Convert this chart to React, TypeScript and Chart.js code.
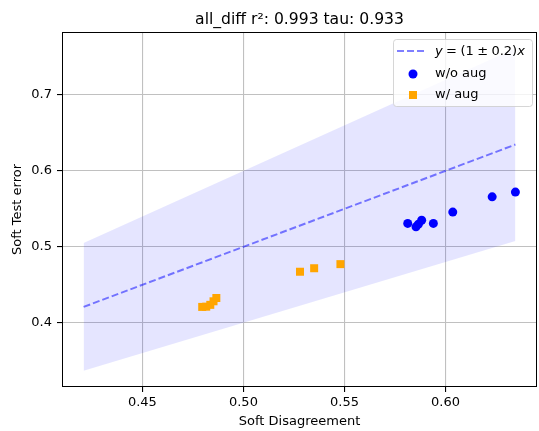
import React, { useEffect, useRef } from "react";
import { Chart, registerables } from "chart.js";

Chart.register(...registerables);

// Soft disagreement (x) vs soft test error (y) for runs without augmentation
const noAugX = [0.5813, 0.5854, 0.5866, 0.5882, 0.594, 0.6036, 0.6231, 0.6346];
const noAugY = [0.5308, 0.5263, 0.5298, 0.535, 0.5308, 0.5457, 0.5658, 0.572];

// ... and with augmentation
const augX = [0.4796, 0.4816, 0.4836, 0.4852, 0.4866, 0.528, 0.535, 0.548];
const augY = [0.4209, 0.4212, 0.4236, 0.4283, 0.4326, 0.4672, 0.4718, 0.4772];

const xTicks = [0.45, 0.5, 0.55, 0.6];
const yTicks = [0.4, 0.5, 0.6, 0.7];

const titleText = "all_diff r\u00b2: 0.993 tau: 0.933";
const xLabel = "Soft Disagreement";
const yLabel = "Soft Test error";
const tolerance = 0.2;

const FONT = "'DejaVu Sans', sans-serif";

export default function App() {
  const canvasRef = useRef<HTMLCanvasElement | null>(null);

  useEffect(() => {
    document.body.style.margin = "0";
    const canvas = canvasRef.current;
    if (!canvas) return;

    const all = [...noAugX, ...noAugY, ...augX, ...augY];
    const lo = Math.min(...all);
    const hi = Math.max(...all);
    const xSpan = hi - lo;
    const yLo = lo * (1 - tolerance);
    const yHi = hi * (1 + tolerance);
    const ySpan = yHi - yLo;

    const toPts = (xs: number[], ys: number[]) => xs.map((x, i) => ({ x, y: ys[i] }));
    const lineX = [lo, hi];

    const framePlugin = {
      id: "frameAndLegend",
      afterDraw(chart: any) {
        const { ctx, chartArea } = chart;
        const { left, top, right, bottom } = chartArea;
        ctx.save();
        // title
        ctx.fillStyle = "#000";
        ctx.font = `15.6px ${FONT}`;
        ctx.textAlign = "center";
        ctx.textBaseline = "alphabetic";
        ctx.fillText(titleText, (left + right) / 2, 24);

        // spines
        ctx.strokeStyle = "#000";
        ctx.lineWidth = 1;
        ctx.strokeRect(Math.round(left) + 0.5, Math.round(top) + 0.5, Math.round(right - left) - 1, Math.round(bottom - top) - 1);

        // legend
        const bx = right - 144;
        const by = top + 7;
        const bw = 139;
        const bh = 67;
        ctx.beginPath();
        ctx.roundRect(bx + 0.5, by + 0.5, bw, bh, 3);
        ctx.fillStyle = "rgba(255,255,255,0.8)";
        ctx.fill();
        ctx.strokeStyle = "rgba(204,204,204,0.8)";
        ctx.stroke();

        const sx = bx + 4;
        const tx = bx + 42;
        const row1 = by + 12;
        const row2 = by + 35;
        const row3 = by + 56;

        ctx.beginPath();
        ctx.setLineDash([7, 3]);
        ctx.strokeStyle = "rgba(0,0,255,0.5)";
        ctx.lineWidth = 2;
        ctx.moveTo(sx, row1);
        ctx.lineTo(sx + 28, row1);
        ctx.stroke();
        ctx.setLineDash([]);

        ctx.beginPath();
        ctx.fillStyle = "#0000ff";
        ctx.arc(sx + 16, row2, 4.5, 0, Math.PI * 2);
        ctx.fill();

        ctx.fillStyle = "#ffa500";
        ctx.fillRect(sx + 12, row3 - 4, 8, 8);

        ctx.fillStyle = "#000";
        ctx.textAlign = "left";
        ctx.textBaseline = "middle";
        // math label: y = (1 ± 0.2)x
        const segs: [string, boolean, number][] = [
          ["y", true, 3.4],
          ["=", false, 3.4],
          ["(1", false, 3.4],
          ["\u00b1", false, 3.4],
          ["0.2)", false, 0],
          ["x", true, 0],
        ];
        let cx = tx;
        for (const [s, it, gap] of segs) {
          ctx.font = `${it ? "italic " : ""}13px ${FONT}`;
          ctx.fillText(s, cx, row1 + 1);
          cx += ctx.measureText(s).width + gap;
        }
        ctx.font = `13px ${FONT}`;
        ctx.fillText("w/o aug", tx, row2);
        ctx.fillText("w/ aug", tx, row3);
        ctx.restore();
      },
    };

    const gridStyle = { color: "#c0c0c0", lineWidth: 1.1, tickLength: 5, tickColor: "#000", drawTicks: true };

    const chart = new Chart(canvas, {
      type: "scatter",
      data: {
        datasets: [
          {
            label: "upper",
            data: toPts(lineX, lineX.map((v) => v * (1 + tolerance))),
            showLine: true,
            borderWidth: 0,
            borderColor: "rgba(0,0,0,0)",
            pointRadius: 0,
            fill: false,
            order: 5,
          },
          {
            label: "lower",
            data: toPts(lineX, lineX.map((v) => v * (1 - tolerance))),
            showLine: true,
            borderWidth: 0,
            borderColor: "rgba(0,0,0,0)",
            pointRadius: 0,
            fill: "-1",
            backgroundColor: "rgba(0,0,255,0.1)",
            order: 4,
          },
          {
            label: "y = (1 ± 0.2)x",
            data: toPts(lineX, lineX),
            showLine: true,
            borderColor: "rgba(0,0,255,0.5)",
            borderWidth: 2,
            borderDash: [7, 3],
            pointRadius: 0,
            fill: false,
            order: 3,
          },
          {
            label: "w/o aug",
            data: toPts(noAugX, noAugY),
            pointStyle: "circle",
            pointRadius: 4.5,
            backgroundColor: "#0000ff",
            borderColor: "#0000ff",
            borderWidth: 0,
            order: 2,
          },
          {
            label: "w/ aug",
            data: toPts(augX, augY),
            pointStyle: "rect",
            pointRadius: 5.66,
            backgroundColor: "#ffa500",
            borderColor: "#ffa500",
            borderWidth: 0,
            order: 1,
          },
        ],
      },
      options: {
        responsive: false,
        animation: false,
        layout: { autoPadding: false, padding: { left: 0, right: 2, top: 32, bottom: 0 } },
        plugins: {
          legend: { display: false },
          title: { display: false },
          tooltip: { enabled: false },
          filler: { propagate: false },
        },
        scales: {
          x: {
            type: "linear",
            min: lo - 0.05 * xSpan,
            max: hi + 0.05 * xSpan,
            afterBuildTicks: (axis: any) => {
              axis.ticks = xTicks.map((v) => ({ value: v }));
            },
            afterFit: (axis: any) => {
              axis.height = 44;
              axis.paddingLeft = 0;
              axis.paddingRight = 0;
            },
            grid: gridStyle,
            border: { display: false },
            ticks: {
              color: "#000",
              font: { family: FONT, size: 13 },
              padding: 3,
              maxRotation: 0,
              callback: (v: any) => Number(v).toFixed(2),
            },
            title: {
              display: true,
              text: xLabel,
              color: "#000",
              font: { family: FONT, size: 13 },
              padding: { top: 0, bottom: 2 },
            },
          },
          y: {
            type: "linear",
            min: yLo - 0.05 * ySpan,
            max: yHi + 0.05 * ySpan,
            afterBuildTicks: (axis: any) => {
              axis.ticks = yTicks.map((v) => ({ value: v }));
            },
            afterFit: (axis: any) => {
              axis.width = 62;
              axis.paddingTop = 0;
              axis.paddingBottom = 0;
            },
            grid: gridStyle,
            border: { display: false },
            ticks: {
              color: "#000",
              font: { family: FONT, size: 13 },
              padding: 5,
              callback: (v: any) => Number(v).toFixed(1),
            },
            title: {
              display: true,
              text: yLabel,
              color: "#000",
              font: { family: FONT, size: 13 },
              padding: { top: 10, bottom: 0 },
            },
          },
        },
      },
      plugins: [framePlugin],
    });

    return () => chart.destroy();
  }, []);

  return <canvas ref={canvasRef} width={539} height={431} style={{ display: "block" }} />;
}
